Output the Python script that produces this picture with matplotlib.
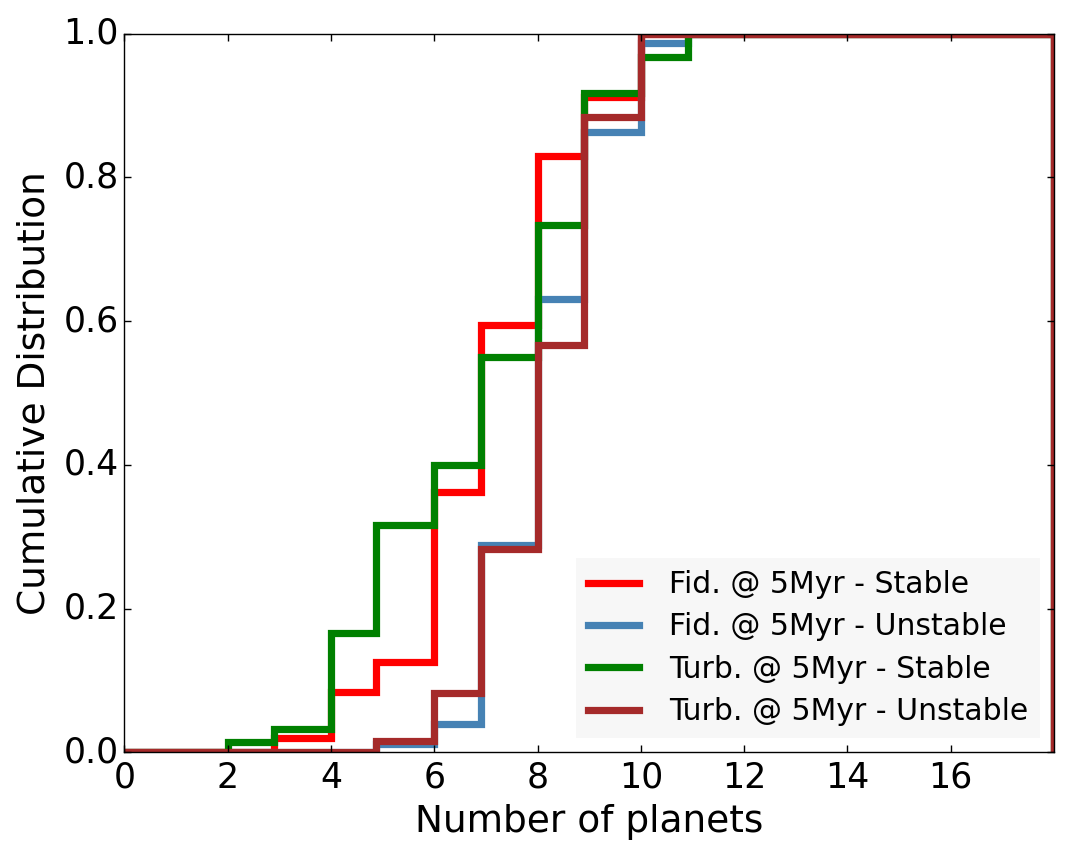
import numpy as np
import matplotlib
matplotlib.use("Agg")
import matplotlib.pyplot as plt

# bin edges (number of planets) and cumulative fractions
edges = np.array([0, 2.0, 2.89, 4.0, 4.88, 6.0, 6.9, 8.0, 8.9, 10.0, 10.92, 18.0])

fid_stable = [0, 0, 0.020, 0.084, 0.126, 0.362, 0.595, 0.830, 0.912, 1.0, 1.0]
fid_unstable = [0, 0, 0, 0, 0.011, 0.040, 0.288, 0.630, 0.863, 0.987, 1.0]
turb_stable = [0, 0.015, 0.032, 0.166, 0.316, 0.400, 0.550, 0.734, 0.917, 0.967, 1.0]
turb_unstable = [0, 0, 0, 0, 0.016, 0.083, 0.283, 0.567, 0.884, 1.0, 1.0]

labels = ["Fid. @ 5Myr - Stable", "Fid. @ 5Myr - Unstable",
          "Turb. @ 5Myr - Stable", "Turb. @ 5Myr - Unstable"]
colors = ["red", "steelblue", "green", "brown"]

plt.style.use("classic")
plt.rcParams["font.family"] = ["DejaVu Sans"]

fig = plt.figure(figsize=(10.71, 8.6), dpi=100, facecolor="white")
ax = fig.add_axes([0.1162, 0.1252, 0.8680, 0.8358])

for vals, lab, col in zip([fid_stable, fid_unstable, turb_stable, turb_unstable], labels, colors):
    ax.stairs(vals, edges, baseline=0, color=col, lw=5.2, label=lab)

ax.set_xlim(0, 18)
ax.set_ylim(0, 1)
ax.set_xticks(np.arange(0, 17, 2))
ax.set_yticks(np.arange(0, 1.01, 0.2))
ax.tick_params(labelsize=25, length=5, width=1)
ax.tick_params(axis="x", pad=6)
ax.set_xlabel("Number of planets", fontsize=27, labelpad=7)
ax.set_ylabel("Cumulative Distribution", fontsize=27, labelpad=8)

leg = ax.legend(loc="lower right", fontsize=21.5, handlelength=1.7,
                handletextpad=1.0, labelspacing=0.45, borderaxespad=0.47,
                frameon=True, fancybox=False)
leg.get_frame().set_facecolor("#f7f7f7")
leg.get_frame().set_edgecolor("none")

fig.savefig("out.png", dpi=100, facecolor="white")
